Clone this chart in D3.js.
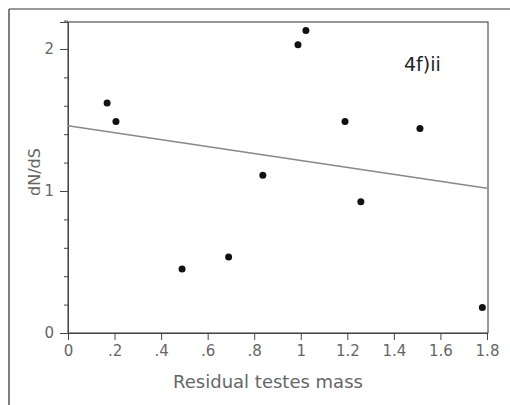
<!DOCTYPE html>
<html>
<head>
<meta charset="utf-8">
<script src="https://cdn.jsdelivr.net/npm/d3@7"></script>
<style>
body{margin:0;background:#fff;}
text{font-family:"DejaVu Sans",sans-serif;}
</style>
</head>
<body>
<div id="chart"></div>
<script>
// residual testes mass vs dN/dS
var massX = [0.168, 0.206, 0.49, 0.69, 0.837, 0.988, 1.022, 1.19, 1.258, 1.512, 1.78];
var dnds = [1.62, 1.49, 0.45, 0.535, 1.11, 2.03, 2.13, 1.49, 0.925, 1.44, 0.18];
var fitX = [0, 1.8];
var fitY = [1.46, 1.02];
var xTicks = [0, 0.2, 0.4, 0.6, 0.8, 1, 1.2, 1.4, 1.6, 1.8];
var yTicks = [0, 1, 2];
var yMinor = [0.2, 0.4, 0.6, 0.8, 1.2, 1.4, 1.6, 1.8, 2.2];

var width = 510, height = 405;
var pLeft = 68, pRight = 487, pTop = 22, pBottom = 333;

var svg = d3.select("#chart").append("svg")
  .attr("width", width)
  .attr("height", height);

// scan frame
svg.append("line").attr("x1",9).attr("x2",510).attr("y1",9).attr("y2",9)
  .style("stroke","#333").style("stroke-width",1);
svg.append("line").attr("x1",9).attr("x2",9).attr("y1",9).attr("y2",405)
  .style("stroke","#555").style("stroke-width",1.5);

var x = d3.scaleLinear().domain([0,1.8]).range([pLeft,pRight]);
var y = d3.scaleLinear().domain([0,2.19]).range([pBottom,pTop]);

// plot box
svg.append("rect")
  .attr("x",pLeft).attr("y",pTop)
  .attr("width",pRight-pLeft+1).attr("height",pBottom-pTop)
  .style("fill","none").style("stroke","#333").style("stroke-width",1);

var fmt = function(d){
  if(d==0) return "0";
  if(d<1) return d3.format(".1f")(d).replace(/^0/,"");
  return d3.format("~g")(d);
};

var xAxis = svg.append("g")
  .attr("transform","translate(0,"+pBottom+")")
  .call(d3.axisBottom(x).tickValues(xTicks).tickFormat(fmt).tickSize(7).tickPadding(5));
xAxis.selectAll("text").style("font-size","15px").style("fill","#666");
xAxis.selectAll("line,path").style("stroke","#444");

var yAxis = svg.append("g")
  .attr("transform","translate("+pLeft+",0)")
  .call(d3.axisLeft(y).tickValues(yTicks).tickFormat(d3.format("d")).tickSize(8).tickPadding(6));
yAxis.selectAll("text").style("font-size","15px").style("fill","#666");
yAxis.selectAll("line,path").style("stroke","#444");

svg.append("g")
  .attr("transform","translate("+pLeft+",0)")
  .call(d3.axisLeft(y).tickValues(yMinor).tickFormat("").tickSize(4))
  .call(function(g){ g.select(".domain").remove(); })
  .selectAll("line").style("stroke","#444");

// regression line
svg.append("line")
  .attr("x1",x(fitX[0])).attr("y1",y(fitY[0]))
  .attr("x2",x(fitX[1])).attr("y2",y(fitY[1]))
  .style("stroke","#888").style("stroke-width",1.5);

svg.selectAll(".dot")
  .data(massX)
  .enter()
  .append("circle")
  .attr("cx",function(d){ return x(d); })
  .attr("cy",function(d,i){ return y(dnds[i]); })
  .attr("r",3.5)
  .style("fill","#111");

svg.append("text")
  .attr("x",404).attr("y",71)
  .style("font-size","19px").style("fill","#222")
  .text("4f)ii");

svg.append("text")
  .attr("x",268).attr("y",388)
  .attr("text-anchor","middle")
  .style("font-size","18px").style("fill","#666")
  .text("Residual testes mass");

svg.append("text")
  .attr("transform","translate(40,172) rotate(-90)")
  .attr("text-anchor","middle")
  .style("font-size","16px").style("fill","#666")
  .text("dN/dS");
</script>
</body>
</html>
